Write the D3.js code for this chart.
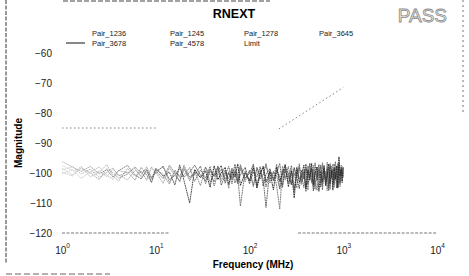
<!DOCTYPE html>
<html>
<head>
<meta charset="utf-8">
<script src="https://cdn.jsdelivr.net/npm/d3@7"></script>
<style>
  body { margin: 0; background: #fff; }
  svg { display: block; font-family: 'Liberation Sans', Arial, sans-serif; }
</style>
</head>
<body>
<svg id="chart"></svg>
<script>
// Frequency sweep shared by every pair (MHz).
const freqs = [1, 1.3, 1.6, 2, 2.5, 3, 3.5, 4, 5, 6,
  7, 8, 9, 10, 12, 14, 16, 18, 20, 23,
  26, 30, 34, 38, 42, 46, 50, 55, 60, 65,
  70, 75, 80, 90, 100, 110, 120, 130, 140, 150,
  165, 180, 195, 210, 225, 240, 260, 280, 300, 320,
  340, 360, 380, 400, 420, 440, 460, 480, 500, 525,
  550, 575, 600, 625, 650, 675, 700, 725, 750, 775,
  800, 825, 850, 875, 900, 925, 950, 975, 1000];

// Magnitudes (dB), one array per pair.
const pair1236 = [-97.5, -99.2, -98.6, -100.1, -99.4, -101.2, -98.8, -100.5, -102.3, -99.1,
  -100.8, -97.9, -101.6, -99.7, -103.4, -98.2, -100.9, -102.6, -97.3, -101.8,
  -99.5, -104.2, -98.1, -100.6, -102.9, -97.6, -101.3, -99.0, -105.1, -98.4,
  -100.2, -103.7, -97.2, -101.9, -99.3, -104.6, -98.0, -102.1, -100.4, -96.8,
  -103.3, -99.6, -101.0, -105.4, -97.7, -102.4, -99.9, -104.0, -98.3, -101.5,
  -96.9, -103.8, -100.0, -98.6, -105.7, -99.2, -102.8, -97.4, -104.3, -100.7,
  -98.8, -103.0, -96.5, -101.7, -99.4, -105.9, -98.1, -102.2, -100.3, -97.0,
  -104.8, -99.8, -101.4, -96.6, -103.5, -98.9, -102.7, -97.8, -100.9];
const pair1245 = [-98.4, -100.6, -97.7, -101.3, -99.8, -97.2, -100.9, -102.7, -98.5, -101.1,
  -99.3, -102.4, -98.0, -100.2, -97.6, -103.1, -99.5, -101.4, -100.7, -98.2,
  -102.8, -99.0, -101.7, -97.8, -104.3, -100.1, -98.7, -102.2, -99.6, -103.6,
  -98.9, -101.2, -111.0, -99.4, -102.5, -97.5, -103.9, -100.3, -98.1, -104.7,
  -99.7, -101.9, -97.1, -105.2, -100.5, -98.6, -103.2, -99.1, -106.0, -97.9,
  -102.0, -100.8, -104.9, -98.3, -101.6, -96.7, -103.4, -99.9, -105.5, -98.0,
  -101.0, -97.3, -104.1, -99.6, -102.6, -96.4, -105.0, -100.4, -98.7, -103.7,
  -97.0, -101.8, -99.2, -104.4, -96.9, -102.3, -100.6, -98.4, -101.5];
const pair1278 = [-99.0, -97.9, -100.4, -98.7, -101.5, -99.9, -98.3, -101.0, -99.6, -102.4,
  -98.1, -100.7, -103.0, -99.2, -101.9, -97.4, -100.0, -102.9, -98.8, -101.2,
  -100.5, -97.7, -103.5, -99.4, -101.0, -98.2, -104.1, -100.6, -97.8, -102.3,
  -99.8, -103.3, -98.5, -101.6, -100.2, -97.0, -104.5, -99.1, -102.0, -111.5,
  -98.6, -102.7, -100.0, -96.8, -104.0, -99.3, -101.8, -97.5, -105.3, -100.7,
  -98.0, -103.1, -99.7, -106.2, -97.6, -101.3, -99.0, -104.6, -96.6, -102.5,
  -100.2, -97.8, -105.6, -99.5, -102.1, -98.5, -104.2, -96.9, -101.7, -99.3,
  -103.8, -98.2, -100.8, -105.1, -97.2, -102.9, -99.4, -101.0, -98.6];
const pair3645 = [-100.2, -98.9, -101.8, -99.6, -98.0, -100.7, -102.1, -99.1, -100.0, -98.4,
  -101.4, -99.8, -102.0, -98.6, -100.5, -103.7, -99.0, -101.1, -98.1, -102.6,
  -99.4, -101.5, -98.0, -103.1, -100.3, -97.9, -102.5, -99.7, -101.8, -98.5,
  -103.4, -100.1, -97.6, -102.9, -99.0, -104.1, -98.3, -101.4, -100.6, -97.3,
  -102.2, -99.5, -104.4, -112.0, -98.9, -101.7, -97.8, -103.6, -100.0, -105.0,
  -97.5, -102.6, -99.2, -104.7, -100.9, -96.9, -103.0, -98.7, -101.9, -105.8,
  -99.1, -103.5, -97.1, -101.2, -104.0, -98.4, -100.7, -105.4, -97.7, -102.0,
  -99.9, -96.2, -103.3, -100.5, -98.1, -104.5, -97.4, -101.3, -99.0];
const pair3678 = [-96.2, -98.0, -99.5, -97.8, -100.3, -98.9, -101.4, -99.2, -97.5, -100.6,
  -102.0, -99.0, -103.2, -98.4, -101.1, -99.7, -104.0, -97.3, -102.5, -110.0,
  -98.8, -101.6, -99.3, -104.8, -97.6, -102.2, -100.0, -98.1, -103.8, -99.5,
  -101.3, -97.0, -104.2, -99.9, -102.7, -98.3, -105.1, -100.4, -97.7, -103.0,
  -99.6, -105.6, -98.0, -102.8, -100.1, -97.2, -104.6, -99.3, -108.3, -98.5,
  -103.1, -100.6, -97.4, -105.3, -99.0, -102.4, -96.8, -104.0, -100.2, -98.0,
  -106.1, -99.4, -102.9, -97.5, -104.3, -100.8, -97.0, -103.6, -99.1, -105.7,
  -98.3, -102.1, -97.6, -104.9, -94.6, -101.0, -98.7, -103.2, -97.9];
const pair4578 = [-99.7, -101.0, -98.2, -100.0, -102.2, -98.6, -99.9, -101.7, -100.4, -97.9,
  -100.1, -98.7, -101.6, -99.4, -98.0, -102.1, -100.9, -98.4, -101.3, -99.8,
  -97.4, -100.7, -102.6, -98.6, -101.1, -99.3, -97.5, -103.4, -100.0, -101.5,
  -97.1, -102.8, -100.6, -98.1, -103.6, -99.7, -101.2, -97.9, -104.4, -100.3,
  -98.7, -102.3, -99.2, -101.0, -104.8, -97.4, -100.6, -103.9, -98.2, -101.9,
  -105.2, -99.1, -102.0, -97.0, -103.7, -100.2, -98.4, -106.0, -99.5, -101.6,
  -97.2, -104.7, -100.0, -98.2, -103.1, -99.7, -105.9, -97.6, -101.4, -98.8,
  -102.4, -99.9, -105.0, -97.7, -100.9, -103.5, -98.0, -100.4, -101.2];

// Limit line: flat, then rising ~20 dB/decade (null = faded out on the scan).
const limitFreqs = [1, 10, 15, 206, 1000];
const limitVals = [-85, -85, null, -85.3, -71.5];

const xTicks = [1, 10, 100, 1000, 10000];
const yTicks = [-60, -70, -80, -90, -100, -110, -120];

const width = 469;
const height = 276;

const pairs = [
  { name: 'Pair_1236', values: pair1236, color: '#7c7c7c' },
  { name: 'Pair_1245', values: pair1245, color: '#6a6a6a' },
  { name: 'Pair_1278', values: pair1278, color: '#5c5c5c' },
  { name: 'Pair_3645', values: pair3645, color: '#727272' },
  { name: 'Pair_4578', values: pair4578, color: '#4c4c4c' },
  { name: 'Pair_3678', values: pair3678, color: '#222222' },
];

const svg = d3.select('#chart').attr('width', width).attr('height', height);
svg.append('rect').attr('width', width).attr('height', height).attr('fill', '#fff');

const x = d3.scaleLog().domain([1, 10000]).range([62, 437]);
const y = d3.scaleLinear().domain([-120, -50]).range([233, 23]);

// The low-frequency part of the traces is washed out on the scan.
const defs = svg.append('defs');
const fade = defs.append('linearGradient')
  .attr('id', 'fade')
  .attr('gradientUnits', 'userSpaceOnUse')
  .attr('x1', x(1)).attr('x2', x(40)).attr('y1', 0).attr('y2', 0);
fade.append('stop').attr('offset', 0).attr('stop-color', '#fff').attr('stop-opacity', 0.3);
fade.append('stop').attr('offset', 1).attr('stop-color', '#fff').attr('stop-opacity', 1);
defs.append('mask')
  .attr('id', 'fade-mask')
  .attr('maskUnits', 'userSpaceOnUse')
  .attr('x', 0).attr('y', 0).attr('width', width).attr('height', height)
  .append('rect')
  .attr('width', width).attr('height', height)
  .attr('fill', 'url(#fade)');

// Scan edges of the printed page.
const edges = svg.append('g').attr('fill', 'none');
edges.append('line').attr('x1', 6).attr('x2', 6).attr('y1', 0).attr('y2', 263)
  .attr('stroke', '#555').attr('stroke-width', 1.2).attr('stroke-dasharray', '4,1.5');
edges.append('line').attr('x1', 63).attr('x2', 270).attr('y1', 1).attr('y2', 1)
  .attr('stroke', '#444').attr('stroke-dasharray', '5,2');
edges.append('line').attr('x1', 463).attr('x2', 463).attr('y1', 0).attr('y2', 115)
  .attr('stroke', '#777').attr('stroke-dasharray', '2,3');
edges.append('line').attr('x1', 6).attr('x2', 110).attr('y1', 274).attr('y2', 274)
  .attr('stroke', '#666').attr('stroke-dasharray', '6,3');

// Bottom axis line, only partly visible on the scan.
const baseLine = svg.append('g').attr('stroke', '#777').attr('stroke-dasharray', '3,1.5');
baseLine.append('line').attr('x1', x(1)).attr('x2', x(14)).attr('y1', y(-120)).attr('y2', y(-120));
baseLine.append('line').attr('x1', x(330)).attr('x2', x(10000)).attr('y1', y(-120)).attr('y2', y(-120));

// X axis with 10^n labels.
const xAxis = svg.append('g')
  .attr('transform', `translate(0,${y(-120)})`)
  .call(d3.axisBottom(x).tickValues(xTicks).tickSize(0).tickFormat(''));
xAxis.select('.domain').remove();
const xLabel = xAxis.selectAll('.tick').append('text')
  .attr('fill', '#222')
  .attr('y', 21)
  .attr('font-size', 10)
  .attr('text-anchor', 'middle');
xLabel.append('tspan').text('10');
xLabel.append('tspan').attr('dy', -6).attr('font-size', 6.5).text((d) => Math.round(Math.log10(d)));

// Y axis.
const yAxis = svg.append('g')
  .attr('transform', `translate(${x(1)},0)`)
  .call(d3.axisLeft(y).tickValues(yTicks).tickSize(0).tickPadding(10));
yAxis.select('.domain').remove();
yAxis.selectAll('text').attr('font-size', 10).attr('fill', '#222');

// Pair traces.
const line = d3.line()
  .defined((d) => d[1] !== null)
  .x((d) => x(d[0]))
  .y((d) => y(d[1]));

svg.append('g')
  .attr('fill', 'none')
  .attr('mask', 'url(#fade-mask)')
  .selectAll('path')
  .data(pairs)
  .join('path')
  .attr('stroke', (d) => d.color)
  .attr('stroke-width', 0.9)
  .attr('stroke-dasharray', '1.8,0.6')
  .attr('d', (d) => line(d.values.map((v, i) => [freqs[i], v])));

// Limit trace.
svg.append('path')
  .attr('fill', 'none')
  .attr('stroke', '#777')
  .attr('stroke-width', 0.9)
  .attr('stroke-dasharray', '1.5,2.5')
  .attr('d', line(limitVals.map((v, i) => [limitFreqs[i], v])));

// Title and PASS stamp.
svg.append('text')
  .attr('x', 234).attr('y', 18)
  .attr('text-anchor', 'middle')
  .attr('font-size', 12.5)
  .attr('font-weight', 'bold')
  .text('RNEXT');
svg.append('text')
  .attr('x', 447).attr('y', 22)
  .attr('text-anchor', 'end')
  .attr('font-size', 19)
  .attr('fill', '#f2f2f2')
  .attr('stroke', '#8a8a8a')
  .attr('stroke-width', 0.8)
  .text('PASS');

// Legend: 4 columns x 2 rows, only the black trace sample survives the scan.
const legendCols = [92, 170, 244, 319];
const legendRows = [36, 46];
const legendOrder = ['Pair_1236', 'Pair_1245', 'Pair_1278', 'Pair_3645', 'Pair_3678', 'Pair_4578', 'Limit'];
const legend = svg.append('g')
  .selectAll('g')
  .data(legendOrder)
  .join('g')
  .attr('transform', (d, i) => `translate(${legendCols[i % 4]},${legendRows[Math.floor(i / 4)]})`);
legend.filter((d) => d === 'Pair_3678')
  .append('line')
  .attr('x1', -26).attr('x2', -7).attr('y1', -3).attr('y2', -3)
  .attr('stroke', '#111').attr('stroke-width', 1);
legend.append('text')
  .attr('font-size', 7.5)
  .attr('fill', '#222')
  .text((d) => d);

// Axis titles.
svg.append('text')
  .attr('transform', `translate(22,${y(-90)}) rotate(-90)`)
  .attr('text-anchor', 'middle')
  .attr('font-size', 10)
  .attr('font-weight', 'bold')
  .text('Magnitude');
svg.append('text')
  .attr('x', 253).attr('y', 268)
  .attr('text-anchor', 'middle')
  .attr('font-size', 10)
  .attr('font-weight', 'bold')
  .text('Frequency (MHz)');
</script>
</body>
</html>
